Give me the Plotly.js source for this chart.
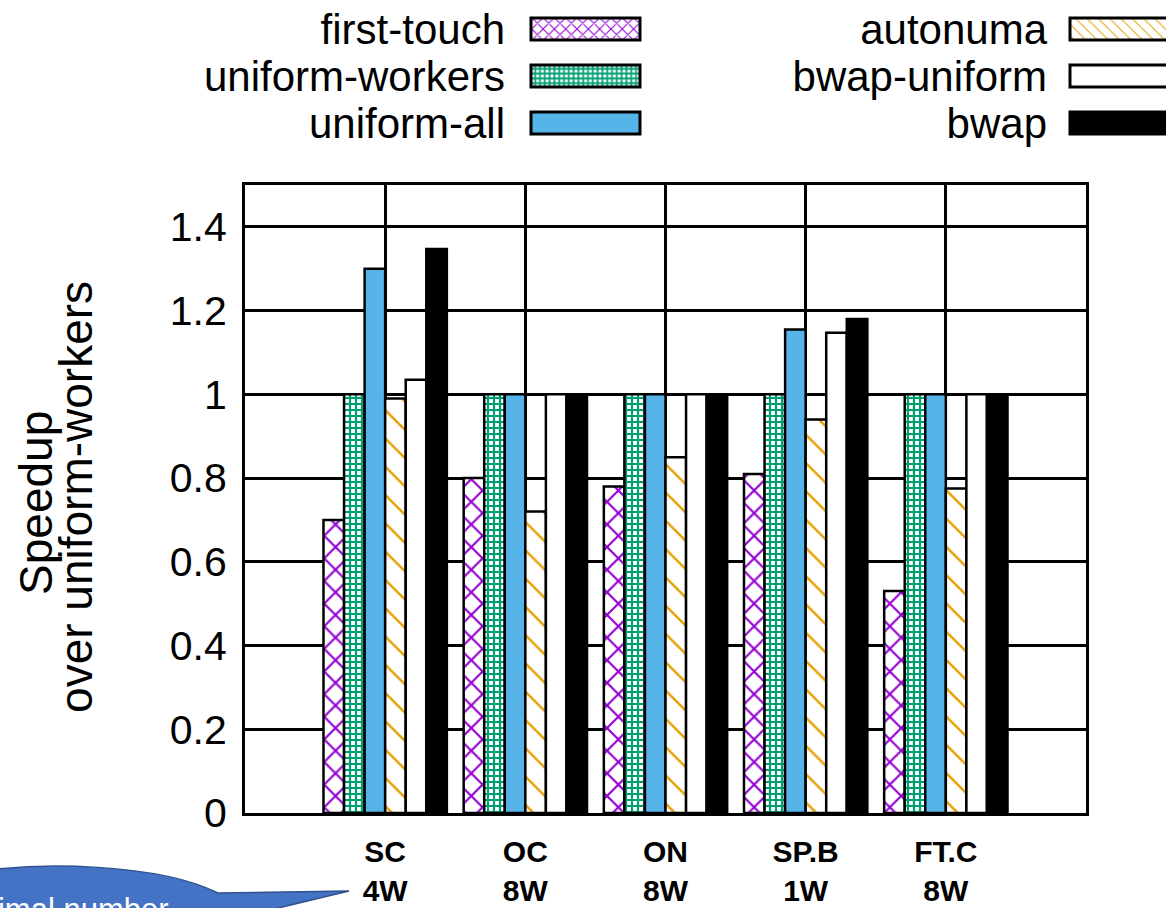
<!DOCTYPE html>
<html>
<head>
<meta charset="utf-8">
<script src="https://cdn.plot.ly/plotly-3.0.1.min.js"></script>
<style>
  html, body { margin: 0; padding: 0; background: #ffffff; overflow: hidden; }
  #chart { width: 1166px; height: 908px; }
</style>
</head>
<body>
<div id="chart"></div>
<script>
// ---------------- data ----------------
const categories = ['SC', 'OC', 'ON', 'SP.B', 'FT.C'];
const workers = ['4W', '8W', '8W', '1W', '8W'];
const firstTouch = [0.70, 0.80, 0.78, 0.81, 0.53];
const uniformWorkers = [1.00, 1.00, 1.00, 1.00, 1.00];
const uniformAll = [1.30, 1.00, 1.00, 1.155, 1.00];
const autonuma = [0.99, 0.72, 0.85, 0.94, 0.775];
const bwapUniform = [1.035, 1.00, 1.00, 1.147, 1.00];
const bwap = [1.347, 1.00, 1.00, 1.18, 1.00];
const yTickVals = [0, 0.2, 0.4, 0.6, 0.8, 1, 1.2, 1.4];
const xTickText = categories.map((c, i) => c + '<br>' + workers[i]);

// ---------------- fonts ----------------
const NF = '"Liberation Sans", Arial, sans-serif';
const legendSize = 42;
const tickSize = 41;
const titleSize = 46;

// ---------------- geometry helpers ----------------
const W = 1166, H = 908;
const M = { l: 245, r: 80, t: 185, b: 95 };
const PW = W - M.l - M.r, PH = H - M.t - M.b;
const px = x => (x - M.l) / PW;
const py = y => 1 - (y - M.t) / PH;
const f5 = v => v.toFixed(5);

function barTrace(name, vals, fill, pattern, legendId) {
  const t = {
    type: 'bar', name: name, x: categories, y: vals,
    marker: { color: fill, line: { color: '#000000', width: 2.5 } },
    legend: legendId,
    hoverinfo: 'name+y'
  };
  if (pattern) t.marker.pattern = pattern;
  return t;
}

const traces = [
  barTrace('first-touch', firstTouch, '#ffffff',
    { shape: 'x', fgcolor: '#9400D3', bgcolor: '#ffffff', size: 16, solidity: 0.25, fillmode: 'replace' }, 'legend'),
  barTrace('uniform-workers', uniformWorkers, '#ffffff',
    { shape: '+', fgcolor: '#009E73', bgcolor: '#ffffff', size: 6, solidity: 0.6, fillmode: 'replace' }, 'legend'),
  barTrace('uniform-all', uniformAll, '#56B4E9', null, 'legend'),
  barTrace('autonuma', autonuma, '#ffffff',
    { shape: '\\', fgcolor: '#E69F00', bgcolor: '#ffffff', size: 20, solidity: 0.12, fillmode: 'replace' }, 'legend2'),
  barTrace('bwap-uniform', bwapUniform, '#ffffff', null, 'legend2'),
  barTrace('bwap', bwap, '#000000', null, 'legend2')
];

// ---------------- callout bubble (decoration) ----------------
const bubblePath = 'M' + f5(px(-40)) + ',' + f5(py(874)) +
  ' C' + f5(px(40)) + ',' + f5(py(860)) + ' ' + f5(px(160)) + ',' + f5(py(864)) + ' ' + f5(px(218)) + ',' + f5(py(893)) +
  ' L' + f5(px(349)) + ',' + f5(py(891)) +
  ' L' + f5(px(245)) + ',' + f5(py(916)) +
  ' L' + f5(px(-40)) + ',' + f5(py(916)) + ' Z';

const layout = {
  width: W, height: H,
  margin: M,
  paper_bgcolor: '#ffffff', plot_bgcolor: '#ffffff',
  font: { family: NF, color: '#000000' },
  barmode: 'group', bargap: 0.12, bargroupgap: 0,
  xaxis: {
    type: 'category', range: [-1, 5],
    tickmode: 'array', tickvals: categories, ticktext: xTickText,
    showgrid: true, gridcolor: '#000000', gridwidth: 3,
    showline: true, linecolor: '#000000', linewidth: 3, mirror: true,
    ticks: '', ticklabelstandoff: 10,
    tickfont: { family: NF, size: 30, weight: 'bold', color: '#000000' },
    zeroline: false, fixedrange: true, automargin: false
  },
  yaxis: {
    range: [0, 1.5], tickmode: 'array', tickvals: yTickVals,
    showgrid: true, gridcolor: '#000000', gridwidth: 3,
    showline: true, linecolor: '#000000', linewidth: 3, mirror: true,
    ticks: '', ticklabelstandoff: 7,
    tickfont: { family: NF, size: tickSize, color: '#000000' },
    zeroline: false, fixedrange: true, automargin: false
  },
  legend: {
    x: 0.3, y: 0.6, xanchor: 'left', yanchor: 'top',
    font: { family: NF, size: legendSize, color: '#000000' },
    bgcolor: 'rgba(0,0,0,0)', borderwidth: 0, tracegroupgap: 0
  },
  legend2: {
    x: 0.6, y: 0.6, xanchor: 'left', yanchor: 'top',
    font: { family: NF, size: legendSize, color: '#000000' },
    bgcolor: 'rgba(0,0,0,0)', borderwidth: 0, tracegroupgap: 0
  },
  annotations: [
    { text: 'Speedup', xref: 'paper', yref: 'paper', x: px(52 - 0.35 * titleSize), y: py(503),
      xanchor: 'center', yanchor: 'middle', textangle: -90, showarrow: false,
      font: { family: NF, size: titleSize, color: '#000000' } },
    { text: 'over uniform-workers', xref: 'paper', yref: 'paper', x: px(92 - 0.35 * titleSize), y: py(497),
      xanchor: 'center', yanchor: 'middle', textangle: -90, showarrow: false,
      font: { family: NF, size: titleSize, color: '#000000' } },
    { text: 'Optimal number', xref: 'paper', yref: 'paper', x: px(171), y: py(909),
      xanchor: 'right', yanchor: 'middle', showarrow: false,
      font: { family: NF, size: 31, color: '#ffffff' } }
  ],
  shapes: [
    { type: 'path', xref: 'paper', yref: 'paper', path: bubblePath,
      fillcolor: '#4472C4', line: { color: '#2F528F', width: 1.5 }, layer: 'above' }
  ],
  showlegend: true
};

// ---------------- legend arrangement (native legend swatches, text right-aligned before them) ----------------
const legendCols = {
  legend: { textRight: 505, x0: 531, x1: 640 },
  legend2: { textRight: 1047, x0: 1070, x1: 1185 }
};
const legendRows = [29, 76, 123];
const SVGNS = 'http://www.w3.org/2000/svg';

function arrangeLegend(gd) {
  const info = gd.querySelector('.infolayer');
  if (info.querySelector('g.customlegend')) return;
  const layer = document.createElementNS(SVGNS, 'g');
  layer.setAttribute('class', 'customlegend');
  info.appendChild(layer);
  Object.keys(legendCols).forEach(id => {
    const lg = Array.from(info.children).find(el => el.classList && el.classList.contains(id));
    if (!lg) return;
    const col = legendCols[id];
    const items = Array.from(lg.querySelectorAll('g.traces'));
    const names = gd.data.filter(t => (t.legend || 'legend') === id).map(t => t.name);
    items.forEach((orig, i) => {
      const g = document.createElementNS(SVGNS, 'g');
      g.setAttribute('transform', 'translate(0,' + legendRows[i] + ')');
      layer.appendChild(g);
      const origPath = orig.querySelector('g.legendpoints path');
      if (origPath) {
        const p = origPath.cloneNode(true);
        p.setAttribute('d', 'M' + col.x0 + ',-11H' + col.x1 + 'V11H' + col.x0 + 'Z');
        p.removeAttribute('transform');
        p.style.strokeWidth = '3px';
        p.style.stroke = '#000000';
        g.appendChild(p);
      }
      const origText = orig.querySelector('text.legendtext');
      const t = document.createElementNS(SVGNS, 'text');
      t.textContent = origText ? origText.textContent : names[i];
      t.setAttribute('x', col.textRight);
      t.setAttribute('y', 15);
      t.setAttribute('text-anchor', 'end');
      t.setAttribute('font-family', 'Liberation Sans, Arial, sans-serif');
      t.setAttribute('font-size', legendSize);
      t.setAttribute('fill', '#000000');
      g.appendChild(t);
    });
    lg.remove();
  });
}

Plotly.newPlot('chart', traces, layout, { displayModeBar: false, staticPlot: true }).then(gd => {
  arrangeLegend(gd);
});
</script>
</body>
</html>
